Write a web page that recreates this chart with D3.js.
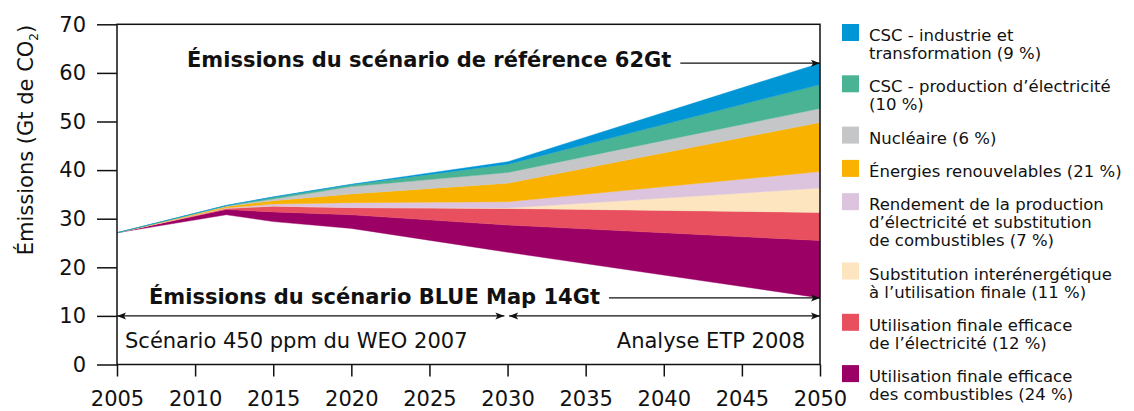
<!DOCTYPE html>
<html>
<head>
<meta charset="utf-8" />
<title>Emissions ETP 2008</title>
<script src="https://d3js.org/d3.v7.min.js"></script>
<style>
  body { margin: 0; background: #fff; }
  svg text { font-family: "DejaVu Sans", sans-serif; fill: #111; }
</style>
</head>
<body>
<svg id="chart" width="1134" height="411"></svg>
<script>
// data (Gt CO2)
var years = [2005, 2012, 2015, 2020, 2030, 2050];
var blueMap = [27.1, 30.8, 29.4, 28.0, 23.1, 13.7];   // bottom line of the stack
var combustibles = [0, 1.1, 2.0, 2.8, 5.6, 11.8];
var electricite = [0, 0.25, 1.2, 1.5, 3.4, 5.8];
var substitution = [0, 0, 0, 0, 0.1, 5.0];
var rendement = [0, 0.1, 0.4, 1.0, 1.3, 3.4];
var renouvelables = [0, 0.25, 0.7, 1.8, 3.8, 10.1];
var nucleaire = [0, 0.1, 0.35, 1.5, 2.2, 2.9];
var cscElec = [0, 0.1, 0.35, 0.4, 1.7, 4.9];
var cscIndustrie = [0, 0.05, 0.1, 0.1, 0.5, 4.4];

var xTicks = [2005, 2010, 2015, 2020, 2025, 2030, 2035, 2040, 2045, 2050];
var yTicks = [0, 10, 20, 30, 40, 50, 60, 70];

// stack order bottom -> top
var keys = ["combustibles", "electricite", "substitution", "rendement", "renouvelables", "nucleaire", "cscElec", "cscIndustrie"];
var series = {combustibles: combustibles, electricite: electricite, substitution: substitution, rendement: rendement,
  renouvelables: renouvelables, nucleaire: nucleaire, cscElec: cscElec, cscIndustrie: cscIndustrie};
var colors = {cscIndustrie: "#0096d6", cscElec: "#4ab394", nucleaire: "#c5c6c8", renouvelables: "#f9b200",
  rendement: "#dcc4de", substitution: "#fde5bf", electricite: "#e8505f", combustibles: "#9b0064"};

// legend, top -> bottom
var legendKeys = ["cscIndustrie", "cscElec", "nucleaire", "renouvelables", "rendement", "substitution", "electricite", "combustibles"];
var legendLabels = [
  ["CSC - industrie et", "transformation (9 %)"],
  ["CSC - production d\u2019\u00e9lectricit\u00e9", "(10 %)"],
  ["Nucl\u00e9aire (6 %)"],
  ["\u00c9nergies renouvelables (21 %)"],
  ["Rendement de la production", "d\u2019\u00e9lectricit\u00e9 et substitution", "de combustibles (7 %)"],
  ["Substitution inter\u00e9nerg\u00e9tique", "\u00e0 l\u2019utilisation finale (11 %)"],
  ["Utilisation finale efficace", "de l\u2019\u00e9lectricit\u00e9 (12 %)"],
  ["Utilisation finale efficace", "des combustibles (24 %)"]
];

var table = years.map(function(yr, i) {
  var row = {year: yr, base: blueMap[i]};
  keys.forEach(function(k) { row[k] = series[k][i]; });
  return row;
});

var svg = d3.select("#chart");
var x = d3.scaleLinear().domain([2005, 2050]).range([117, 820]);
var y = d3.scaleLinear().domain([0, 70]).range([364.5, 24.3]);

var stacked = d3.stack().keys(keys)(table);
var area = d3.area()
  .x(function(d) { return x(d.data.year); })
  .y0(function(d) { return y(d.data.base + d[0]); })
  .y1(function(d) { return y(d.data.base + d[1]); });

svg.append("g").selectAll("path")
  .data(stacked)
  .enter().append("path")
  .attr("d", area)
  .attr("fill", function(s) { return colors[s.key]; })
  .attr("stroke", function(s) { return colors[s.key]; })
  .attr("stroke-width", 0.4);

// frame
svg.append("rect")
  .attr("x", x(2005)).attr("y", y(70))
  .attr("width", x(2050) - x(2005)).attr("height", y(0) - y(70))
  .attr("fill", "none").attr("stroke", "#111").attr("stroke-width", 1.5);

var yAxis = svg.append("g").attr("transform", "translate(" + x(2005) + ",0)")
  .call(d3.axisLeft(y).tickValues(yTicks).tickSize(20).tickPadding(11));
var xAxis = svg.append("g").attr("transform", "translate(0," + y(0) + ")")
  .call(d3.axisBottom(x).tickValues(xTicks).tickSize(12).tickPadding(15).tickFormat(d3.format("d")));
[yAxis, xAxis].forEach(function(a) {
  a.select(".domain").remove();
  a.selectAll("line").attr("stroke", "#111").attr("stroke-width", 1.5);
  a.selectAll("text").attr("font-size", 21).attr("fill", "#111")
    .style("font-family", "'DejaVu Sans', sans-serif");
});

// y title
var yt = svg.append("text")
  .attr("transform", "translate(33,140) rotate(-90)")
  .attr("text-anchor", "middle")
  .attr("font-size", 21);
yt.append("tspan").text("\u00c9missions (Gt de CO");
yt.append("tspan").text("2").attr("font-size", 12).attr("dy", 5);
yt.append("tspan").text(")").attr("dy", -5);

// arrow markers
var defs = svg.append("defs");
defs.append("marker").attr("id", "arrEnd")
  .attr("markerUnits", "userSpaceOnUse").attr("markerWidth", 10).attr("markerHeight", 10)
  .attr("viewBox", "0 -5 10 10").attr("refX", 10).attr("refY", 0).attr("orient", "auto")
  .append("path").attr("d", "M1,-3.5L10,0L1,3.5L3,0Z").attr("fill", "#111");
defs.append("marker").attr("id", "arrStart")
  .attr("markerUnits", "userSpaceOnUse").attr("markerWidth", 10).attr("markerHeight", 10)
  .attr("viewBox", "0 -5 10 10").attr("refX", 10).attr("refY", 0).attr("orient", "auto-start-reverse")
  .append("path").attr("d", "M1,-3.5L10,0L1,3.5L3,0Z").attr("fill", "#111");

function labelArrow(txt, tx, ty, lineY) {
  var t = svg.append("text").attr("x", tx).attr("y", ty)
    .attr("font-size", 21).attr("font-weight", "bold").text(txt);
  var end = tx + t.node().getComputedTextLength();
  svg.append("line").attr("x1", end + 9).attr("x2", x(2050)).attr("y1", lineY).attr("y2", lineY)
    .attr("stroke", "#111").attr("stroke-width", 1.3).attr("marker-end", "url(#arrEnd)");
}
var last = years.length - 1;
var refTotal = blueMap[last] + keys.reduce(function(s, k) { return s + series[k][last]; }, 0);
labelArrow("\u00c9missions du sc\u00e9nario de r\u00e9f\u00e9rence 62Gt", 187, 67, y(refTotal));
labelArrow("\u00c9missions du sc\u00e9nario BLUE Map 14Gt", 149, 304, y(blueMap[last]));

// period arrows
function dblArrow(a, b) {
  svg.append("line").attr("x1", x(a)).attr("x2", x(b)).attr("y1", y(10)).attr("y2", y(10))
    .attr("stroke", "#111").attr("stroke-width", 1.3)
    .attr("marker-start", "url(#arrStart)").attr("marker-end", "url(#arrEnd)");
}
dblArrow(2005, 2029.8);
dblArrow(2030.1, 2050);
svg.append("text").attr("x", 125).attr("y", 348).attr("font-size", 21)
  .text("Sc\u00e9nario 450 ppm du WEO 2007");
svg.append("text").attr("x", 805).attr("y", 348).attr("font-size", 21).attr("text-anchor", "end")
  .text("Analyse ETP 2008");

// legend
var lineH = 18, gap = 15.3, legendTop = 24;
legendKeys.forEach(function(k, i) {
  var g = svg.append("g").attr("transform", "translate(842," + legendTop + ")");
  g.append("rect").attr("width", 17).attr("height", 17).attr("fill", colors[k]);
  var t = g.append("text").attr("x", 27).attr("y", 17).attr("font-size", 16.5);
  legendLabels[i].forEach(function(l, j) {
    t.append("tspan").attr("x", 27).attr("dy", j === 0 ? 0 : lineH).text(l);
  });
  legendTop += legendLabels[i].length * lineH + gap;
});
</script>
</body>
</html>
